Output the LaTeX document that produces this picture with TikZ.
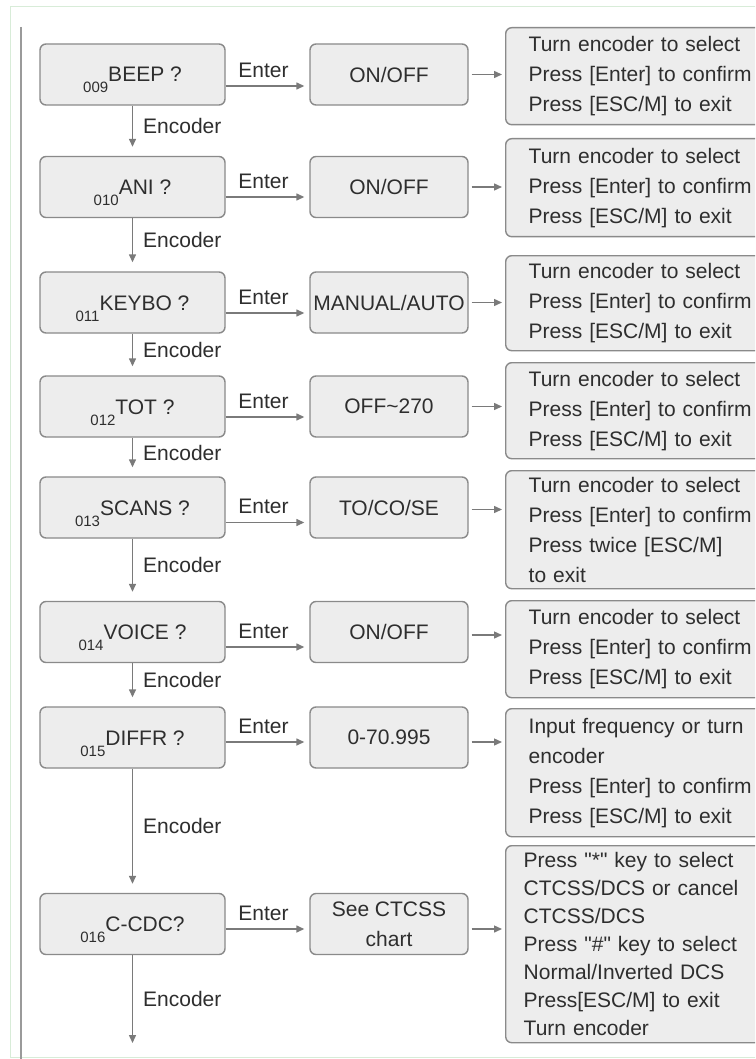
\documentclass[tikz,border=0pt]{standalone}
\usepackage{fontspec}
\setmainfont{Liberation Sans}[Ligatures=TeXOff]
\usetikzlibrary{arrows.meta}
\definecolor{boxfill}{HTML}{EDEDED}
\definecolor{boxline}{HTML}{8A8A8A}
\definecolor{txt}{HTML}{2E2E2E}
\definecolor{arrowc}{HTML}{7A7A7A}
\definecolor{framec}{HTML}{D8ECD8}
\definecolor{sidec}{HTML}{9A9A9A}
\newcommand{\sbn}[1]{\raisebox{-11pt}{\fontsize{15}{15}\selectfont #1}}
\begin{document}
\begin{tikzpicture}[x=1pt,y=-1pt,
 every node/.style={text=txt, font=\fontsize{21}{30}\selectfont},
 boxbase/.style={draw=boxline, fill=boxfill, rounded corners=6pt, line width=1.4pt},
 lbox/.style={boxbase, minimum width=185pt, minimum height=61pt, inner sep=0pt, text height=15pt, text depth=0pt},
 mbox/.style={boxbase, minimum width=158pt, minimum height=61pt, inner sep=0pt, align=center},
 rbox/.style={boxbase, anchor=north west, text width=262pt, inner xsep=23pt, inner ysep=0pt, align=left},
 arr/.style={draw=arrowc, line width=1.4pt, -{Triangle[length=8pt,width=7pt]}},
 lab/.style={inner sep=0pt, text height=15pt, text depth=0pt}
]
\fill[white] (0,0) rectangle (755,1059);
\useasboundingbox (0,0) rectangle (755,1059);
\clip (0,0) rectangle (755,1059);

% frame
\draw[framec, line width=1pt] (760,7) -- (10,7) -- (10,1057) -- (760,1057);
\draw[sidec, line width=1.5pt] (21,27) -- (21,1059);

% left boxes
\node[lbox] (b1) at (132.5,74.5) {\sbn{009}BEEP ?};
\node[lbox] (b2) at (132.5,187) {\sbn{010}ANI ?};
\node[lbox] (b3) at (132.5,302.5) {\sbn{011}KEYBO ?};
\node[lbox] (b4) at (132.5,406.5) {\sbn{012}TOT ?};
\node[lbox] (b5) at (132.5,507.5) {\sbn{013}SCANS ?};
\node[lbox] (b6) at (132.5,632) {\sbn{014}VOICE ?};
\node[lbox] (b7) at (132.5,737.5) {\sbn{015}DIFFR ?};
\node[lbox] (b8) at (132.5,924) {\sbn{016}C-CDC?};
\coordinate (bend) at (132.5,1043);

% middle boxes
\node[mbox] (m1) at (389,74.5) {ON/OFF};
\node[mbox] (m2) at (389,187) {ON/OFF};
\node[mbox] (m3) at (389,302.5) {MANUAL/AUTO};
\node[mbox] (m4) at (389,406.5) {OFF\textasciitilde270};
\node[mbox] (m5) at (389,507.5) {TO/CO/SE};
\node[mbox] (m6) at (389,632) {ON/OFF};
\node[mbox] (m7) at (389,737.5) {0-70.995};
\node[mbox] (m8) at (389,924) {See CTCSS\\chart};

% right boxes
\node[rbox, minimum height=97pt] (r1) at (505,27) {Turn encoder to select\\Press [Enter] to confirm\\Press [ESC/M] to exit};
\node[rbox, minimum height=98pt] (r2) at (505,138) {Turn encoder to select\\Press [Enter] to confirm\\Press [ESC/M] to exit};
\node[rbox, minimum height=95pt] (r3) at (505,255) {Turn encoder to select\\Press [Enter] to confirm\\Press [ESC/M] to exit};
\node[rbox, minimum height=96pt] (r4) at (505,362) {Turn encoder to select\\Press [Enter] to confirm\\Press [ESC/M] to exit};
\node[rbox, minimum height=118pt] (r5) at (505,470) {Turn encoder to select\\Press [Enter] to confirm\\Press twice [ESC/M]\\to exit};
\node[rbox, minimum height=97pt] (r6) at (505,600) {Turn encoder to select\\Press [Enter] to confirm\\Press [ESC/M] to exit};
\node[rbox, minimum height=128pt] (r7) at (505,708) {Input frequency or turn\\encoder\\Press [Enter] to confirm\\Press [ESC/M] to exit};
\node[rbox, minimum height=197pt, inner xsep=18pt, font=\fontsize{21}{28}\selectfont] (r8) at (505,845) {Press "*" key to select\\CTCSS/DCS or cancel\\CTCSS/DCS\\Press "\#" key to select\\Normal/Inverted DCS\\Press[ESC/M] to exit\\Turn encoder};

% Enter arrows
\foreach \i/\d in {1/11.5,2/10,3/10.5,4/10.5,5/15,6/15,7/4.5,8/5}{
  \draw[arr, shorten >=5pt] ([yshift=-\d pt]b\i.east) -- ([yshift=-\d pt]b\i.east -| m\i.west)
    node[midway, above=8pt, xshift=-4pt, lab] {Enter};
}

% right arrows
\foreach \i/\d in {1/0,2/0,3/0,4/0,5/-2,6/-3,7/-4.5,8/-5}{
  \draw[arr, shorten <=3pt, shorten >=3pt] ([yshift=\d pt]m\i.east) -- ([yshift=\d pt]m\i.east -| r\i.west);
}

% Encoder arrows
\foreach \a/\b in {b1/b2,b2/b3,b3/b4,b4/b5,b5/b6,b6/b7,b7/b8}{
  \draw[arr] (\a.south) -- ([yshift=9pt]\b.north) node[midway, right=10pt, lab] {Encoder};
}
\draw[arr] (b8.south) -- (bend) node[midway, right=10pt, lab] {Encoder};
\end{tikzpicture}
\end{document}
